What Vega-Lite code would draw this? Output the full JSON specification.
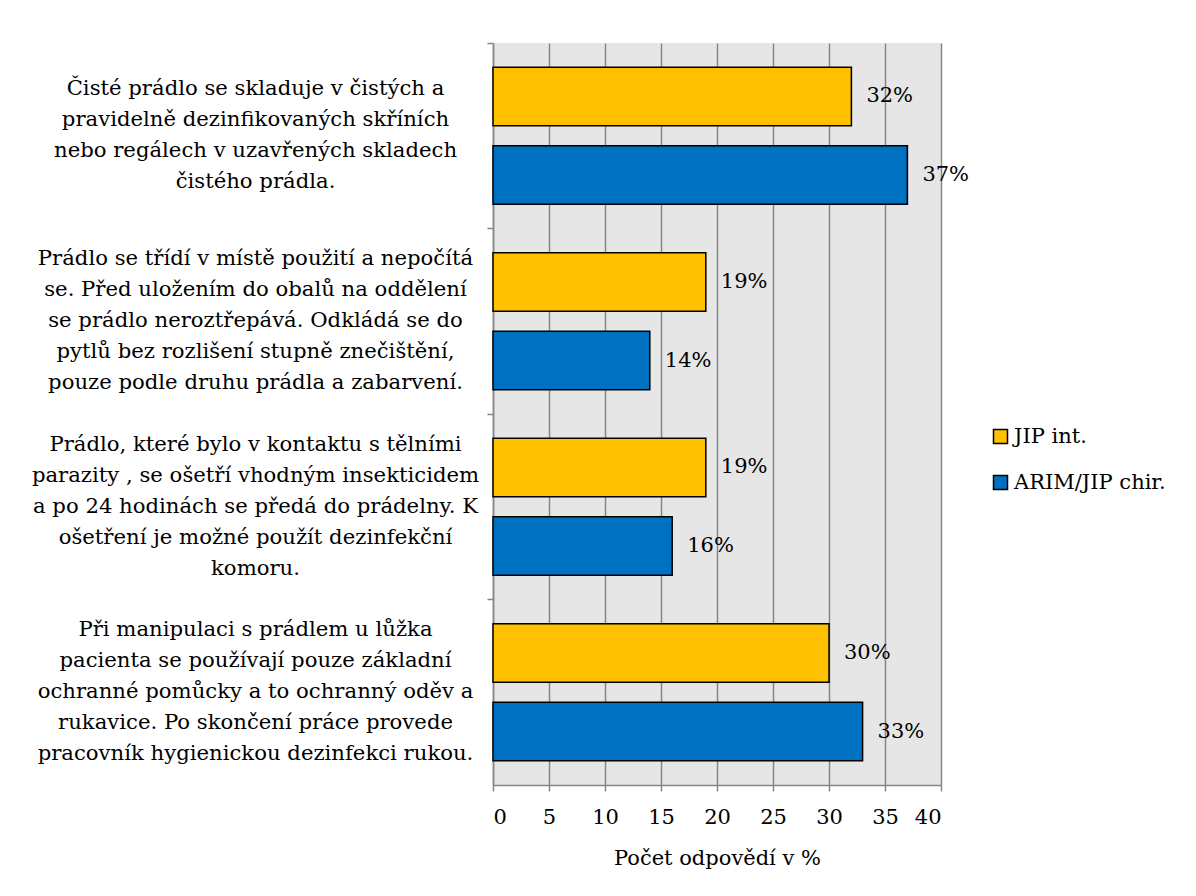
{
  "$schema": "https://vega.github.io/schema/vega-lite/v6.json",
  "autosize": {"type": "none"},
  "width": 448,
  "height": 742,
  "padding": {"left": 493, "top": 43, "right": 255, "bottom": 111},
  "background": "white",
  "config": {
    "font": "DejaVu Serif",
    "view": {"fill": "#E6E6E6", "stroke": null},
    "axis": {"labelColor": "black", "titleColor": "black", "labelFont": "DejaVu Serif", "titleFont": "DejaVu Serif"},
    "legend": {"labelFont": "DejaVu Serif"},
    "text": {"font": "DejaVu Serif"}
  },
  "data": {
    "values": [
      {"kategorie": "Čisté prádlo se skladuje v čistých a|pravidelně dezinfikovaných skříních|nebo regálech v uzavřených skladech|čistého prádla.", "skupina": "JIP int.", "hodnota": 32, "popisek": "32%"},
      {"kategorie": "Čisté prádlo se skladuje v čistých a|pravidelně dezinfikovaných skříních|nebo regálech v uzavřených skladech|čistého prádla.", "skupina": "ARIM/JIP chir.", "hodnota": 37, "popisek": "37%"},
      {"kategorie": "Prádlo se třídí v místě použití a nepočítá|se. Před uložením do obalů na oddělení|se prádlo neroztřepává. Odkládá se do|pytlů bez rozlišení stupně znečištění,|pouze podle druhu prádla a zabarvení.", "skupina": "JIP int.", "hodnota": 19, "popisek": "19%"},
      {"kategorie": "Prádlo se třídí v místě použití a nepočítá|se. Před uložením do obalů na oddělení|se prádlo neroztřepává. Odkládá se do|pytlů bez rozlišení stupně znečištění,|pouze podle druhu prádla a zabarvení.", "skupina": "ARIM/JIP chir.", "hodnota": 14, "popisek": "14%"},
      {"kategorie": "Prádlo, které bylo v kontaktu s tělními|parazity , se ošetří vhodným insekticidem|a po 24 hodinách se předá do prádelny. K|ošetření je možné použít dezinfekční|komoru.", "skupina": "JIP int.", "hodnota": 19, "popisek": "19%"},
      {"kategorie": "Prádlo, které bylo v kontaktu s tělními|parazity , se ošetří vhodným insekticidem|a po 24 hodinách se předá do prádelny. K|ošetření je možné použít dezinfekční|komoru.", "skupina": "ARIM/JIP chir.", "hodnota": 16, "popisek": "16%"},
      {"kategorie": "Při manipulaci s prádlem u lůžka|pacienta se používají pouze základní|ochranné pomůcky a to ochranný oděv a|rukavice. Po skončení práce provede|pracovník hygienickou dezinfekci rukou.", "skupina": "JIP int.", "hodnota": 30, "popisek": "30%"},
      {"kategorie": "Při manipulaci s prádlem u lůžka|pacienta se používají pouze základní|ochranné pomůcky a to ochranný oděv a|rukavice. Po skončení práce provede|pracovník hygienickou dezinfekci rukou.", "skupina": "ARIM/JIP chir.", "hodnota": 33, "popisek": "33%"}
    ]
  },
  "encoding": {
    "y": {
      "field": "kategorie",
      "type": "nominal",
      "sort": null,
      "scale": {"paddingInner": 0, "paddingOuter": 0},
      "axis": {
        "title": null,
        "bandPosition": 0,
        "labelOffset": {"condition": {"test": "indexof(datum.value, 'Čisté') == 0", "value": -46.5}, "value": -62},
        "labelExpr": "split(datum.label, '|')",
        "labelAlign": "center",
        "labelBaseline": "middle",
        "labelFontSize": 21.2,
        "labelLineHeight": 31,
        "labelPadding": 232,
        "labelLimit": 0,
        "tickSize": 6,
        "tickColor": "#868686",
        "domainColor": "#868686",
        "tickWidth": 1.5,
        "domainWidth": 1.5,
        "grid": false
      }
    },
    "yOffset": {
      "field": "skupina",
      "type": "nominal",
      "sort": ["JIP int.", "ARIM/JIP chir."],
      "scale": {"paddingInner": 0.256, "paddingOuter": 0.308}
    },
    "x": {
      "field": "hodnota",
      "type": "quantitative",
      "scale": {"domain": [0, 40], "nice": false},
      "axis": {
        "title": "Počet odpovědí v %",
        "titleFontSize": 21,
        "titleFontWeight": "normal",
        "titlePadding": 20,
        "values": [0, 5, 10, 15, 20, 25, 30, 35, 40],
        "labelFontSize": 21,
        "labelPadding": 15,
        "tickSize": 6,
        "tickColor": "#868686",
        "domainColor": "#868686",
        "tickWidth": 1.5,
        "domainWidth": 1.5,
        "grid": true,
        "gridColor": "#868686",
        "gridWidth": 1.5,
        "gridOpacity": 1
      }
    }
  },
  "layer": [
    {
      "mark": {"type": "bar", "stroke": "black", "strokeWidth": 1.5},
      "encoding": {
        "color": {
          "field": "skupina",
          "type": "nominal",
          "scale": {"domain": ["JIP int.", "ARIM/JIP chir."], "range": ["#FFC000", "#0070C0"]},
          "legend": {
            "title": null,
            "orient": "none",
            "legendX": 497,
            "legendY": 383,
            "padding": 0,
            "symbolType": "square",
            "symbolSize": 196,
            "symbolStrokeColor": "black",
            "symbolStrokeWidth": 1.5,
            "labelFontSize": 21,
            "labelColor": "black",
            "labelOffset": 3,
            "rowPadding": 24,
            "labelLimit": 0
          }
        }
      }
    },
    {
      "mark": {"type": "text", "align": "left", "baseline": "middle", "dx": 15, "fontSize": 21, "color": "black"},
      "encoding": {
        "text": {"field": "popisek", "type": "nominal"}
      }
    }
  ]
}
